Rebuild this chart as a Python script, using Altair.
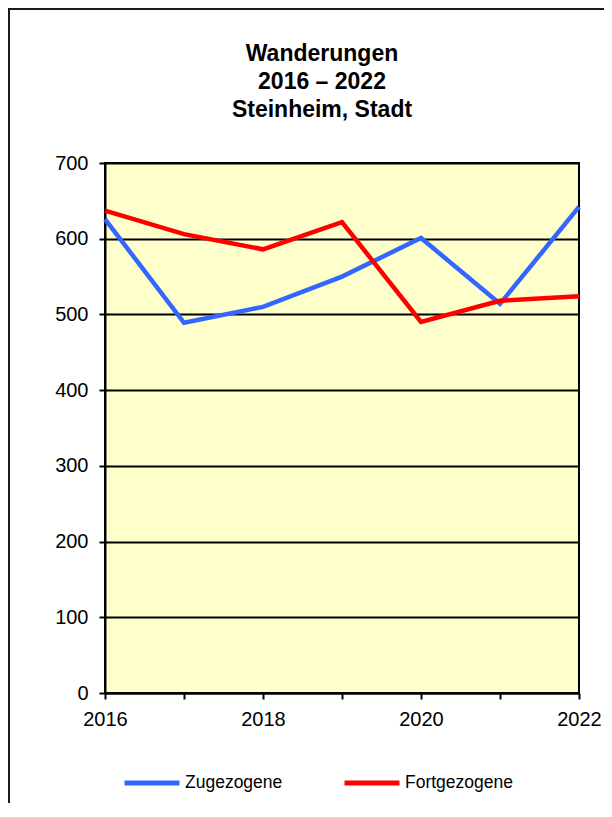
import altair as alt
import pandas as pd

years = [2016, 2017, 2018, 2019, 2020, 2021, 2022]
zugezogene = [626, 489, 510, 550, 601, 514, 642]
fortgezogene = [637, 606, 586, 622, 490, 518, 524]
series = ["Zugezogene", "Fortgezogene"]
colors = ["#3366FF", "#FF0000"]
y_ticks = [0, 100, 200, 300, 400, 500, 600, 700]
title_lines = ["Wanderungen", "2016 – 2022", "Steinheim, Stadt"]

df = pd.DataFrame({
    "Jahr": years + years,
    "Wert": zugezogene + fortgezogene,
    "Reihe": [series[0]] * len(years) + [series[1]] * len(years),
})

FONT = "Liberation Sans"

lines = alt.Chart(df).mark_line(strokeWidth=4.5, strokeCap="butt", strokeJoin="miter").encode(
    x=alt.X("Jahr:Q",
            scale=alt.Scale(domain=[years[0], years[-1]], nice=False, zero=False),
            axis=alt.Axis(values=years, title=None, grid=False,
                          labelExpr="datum.value % 2 == 0 ? toString(datum.value) : ''",
                          labelFlush=False, labelBound=False, labelOverlap=False,
                          tickSize=6, labelPadding=10)),
    y=alt.Y("Wert:Q",
            scale=alt.Scale(domain=[0, 700], nice=False),
            axis=alt.Axis(values=y_ticks, title=None, grid=True, tickSize=6, labelPadding=11)),
    color=alt.Color("Reihe:N",
                    scale=alt.Scale(domain=series, range=colors),
                    sort=series,
                    legend=alt.Legend(orient="none", legendX=17, legendY=590,
                                      direction="horizontal", title=None,
                                      symbolType="stroke", symbolSize=3025,
                                      symbolStrokeWidth=5, labelFontSize=17.5,
                                      labelFont=FONT, labelColor="black",
                                      labelOffset=3, columnPadding=51, padding=0)),
)

one = pd.DataFrame({"k": [0]})
frame_top = alt.Chart(one).mark_rule(color="#1a1a1a", strokeWidth=2).encode(
    x=alt.value(-97), x2=alt.value(510), y=alt.value(-154))
frame_left = alt.Chart(one).mark_rule(color="#1a1a1a", strokeWidth=2).encode(
    x=alt.value(-96), y=alt.value(-155), y2=alt.value(660))

title = alt.Chart(one).mark_text(
    text=title_lines, font=FONT, fontSize=23, fontWeight="bold", lineHeight=28,
    align="center", baseline="alphabetic", color="black",
).encode(x=alt.value(217), y=alt.value(-102.5))

chart = alt.layer(frame_top, frame_left, title, lines).properties(
    width=474, height=530,
    autosize="none",
    padding={"left": 97, "top": 155, "right": 25, "bottom": 110},
    background="white",
).configure_view(
    stroke="black", strokeWidth=2, fill="#FFFFCC"
).configure_axis(
    labelFont=FONT, labelFontSize=20, labelColor="black",
    tickColor="black", tickWidth=2,
    domainColor="black", domainWidth=2,
    gridColor="black", gridWidth=2, gridOpacity=1,
)

chart.save("out.html", embed_options={"renderer": "svg", "actions": False})
